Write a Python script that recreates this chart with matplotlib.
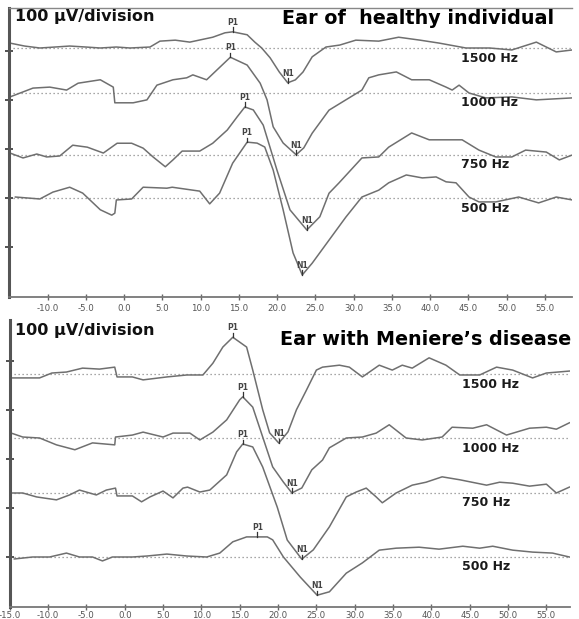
import numpy as np
import matplotlib
matplotlib.use("Agg")
import matplotlib.pyplot as plt

# ---------- Data (latency in ms, amplitude in uV relative to each baseline) ----------
freqs = ["1500 Hz", "1000 Hz", "750 Hz", "500 Hz"]

# Ear of healthy individual
h1500_t = [-14.9, -13.0, -11.0, -9.0, -7.1, -5.0, -3.1, -1.0, 0.8, 3.4, 4.7, 6.7, 8.6, 11.6, 13.2, 14.2,
           16.1, 17.1, 18.0, 19.1, 20.3, 21.4, 22.4, 23.4, 24.6, 26.4, 28.2, 30.3, 33.3, 35.9, 38.7,
           41.2, 44.7, 47.8, 50.7, 53.9, 56.5, 58.6]
h1500_uv = [10, 4, 0, 2, 4, 2, 0, 2, 0, 2, 14, 16, 12, 22, 31, 33,
            27, 12, 0, -20, -49, -71, -65, -49, -18, 2, 6, 16, 14, 22, 16,
            10, 0, 0, -4, 12, -8, -4]

h1000_t = [-14.9, -11.9, -9.7, -7.5, -6.0, -3.1, -1.4, -1.2, 1.2, 3.0, 4.3, 6.4, 8.2, 9.0, 10.8, 13.9,
           16.1, 17.8, 18.7, 19.5, 20.8, 22.5, 23.5, 24.6, 26.8, 29.0, 31.1, 32.0, 33.3, 35.6, 37.6,
           39.9, 42.1, 42.9, 43.8, 45.1, 47.3, 50.7, 53.9, 58.6]
h1000_uv = [-8, 10, 12, 6, 20, 27, 12, -20, -20, -14, 16, 27, 31, 37, 27, 73,
            57, 20, -14, -69, -102, -126, -112, -82, -35, -14, 6, 31, 37, 43, 27,
            27, 12, 6, 16, 0, -10, -8, -14, -10]

h750_t = [-14.9, -13.2, -11.4, -10.1, -8.4, -6.7, -4.8, -2.7, -0.9, 1.0, 2.5, 3.8, 5.4, 6.4, 7.6, 9.9,
          11.6, 13.5, 14.8, 15.8, 16.9, 18.2, 20.0, 21.7, 23.9, 25.6, 26.8, 28.1, 31.1, 33.3, 34.6,
          37.6, 39.9, 44.2, 46.4, 48.6, 50.7, 52.5, 55.2, 56.9, 58.6]
h750_uv = [4, -6, 2, -4, -2, 20, 16, 4, 24, 24, 14, -4, -24, -10, 8, 8,
           24, 51, 78, 98, 92, 61, -31, -112, -153, -126, -78, -57, -6, -4, 16,
           45, 31, 31, 10, -4, -4, 10, 6, -10, 0]

h500_t = [-14.2, -11.0, -9.3, -7.1, -5.4, -3.1, -1.6, -1.2, -1.0, 1.0, 2.5, 5.6, 6.3, 9.9, 11.2, 12.5,
          14.2, 16.1, 17.4, 18.4, 19.5, 20.8, 22.1, 23.3, 24.6, 26.8, 29.0, 31.1, 33.3, 34.6, 36.9,
          39.0, 40.8, 42.1, 43.4, 45.1, 46.4, 48.6, 51.6, 54.2, 56.5, 58.6]
h500_uv = [2, -2, 12, 22, 10, -24, -35, -31, -4, -2, 22, 20, 22, 14, -12, 10,
           71, 114, 112, 104, 57, -24, -112, -157, -133, -86, -39, 2, 16, 31, 47,
           41, 43, 33, 31, 2, -8, -8, 2, -10, 2, -4]

# Ear with Meniere's disease
m1500_t = [-14.8, -11.1, -9.5, -7.6, -5.5, -3.3, -1.3, -1.0, 1.0, 2.4, 5.5, 8.1, 10.2, 11.5, 12.8, 14.1,
           15.9, 16.7, 18.0, 18.9, 20.1, 21.3, 22.4, 23.7, 25.0, 25.8, 28.0, 29.3, 31.0, 33.2, 34.9,
           36.2, 37.5, 39.7, 41.9, 43.7, 46.3, 48.5, 50.6, 53.2, 55.0, 58.0]
m1500_uv = [-8, -8, 2, 4, 12, 10, 14, -6, -6, -12, -6, -2, -2, 22, 55, 75,
            55, 8, -73, -120, -141, -118, -73, -33, 8, 14, 18, 14, -6, 18, 8,
            18, 12, 33, 18, -2, -2, 14, 8, -8, 2, 6]

m1000_t = [-14.8, -13.3, -11.1, -8.9, -6.5, -4.2, -1.3, -1.2, 1.0, 2.4, 5.0, 6.3, 8.5, 9.8, 11.5, 13.3,
           15.0, 15.4, 16.7, 18.0, 19.3, 20.7, 21.8, 23.1, 24.4, 25.8, 26.7, 28.9, 31.0, 32.8, 34.5,
           36.7, 38.8, 41.4, 42.7, 45.4, 47.2, 49.8, 52.8, 55.0, 56.3, 58.0]
m1000_uv = [10, 2, 0, -14, -24, -10, -14, 2, 6, 12, 2, 10, 10, -4, 12, 37,
            78, 84, 63, 2, -59, -90, -112, -102, -65, -45, -20, 0, 2, 10, 27,
            0, -4, 2, 22, 20, 27, 6, 20, 22, 18, 31]

m750_t = [-14.8, -13.3, -11.5, -8.9, -7.2, -5.9, -3.7, -2.4, -1.2, -1.0, 1.0, 2.2, 3.3, 5.0, 6.3, 7.6,
          8.2, 9.8, 11.1, 13.3, 14.6, 15.4, 16.7, 18.0, 19.9, 21.2, 23.1, 24.6, 26.7, 28.9, 30.2,
          31.5, 32.8, 33.6, 35.4, 37.5, 39.3, 41.4, 43.7, 47.2, 48.9, 50.6, 52.8, 55.0, 56.3, 58.0]
m750_uv = [0, 0, -8, -14, -4, 6, -4, 6, 10, -6, -6, -18, -8, 4, -10, 10,
           12, 2, 6, 37, 84, 100, 94, 53, -29, -96, -135, -116, -69, -8, 2,
           10, -8, -20, 0, 16, 22, 33, 27, 16, 22, 20, 14, 18, 0, 12]

m500_t = [-14.4, -12.0, -9.8, -7.6, -5.9, -4.2, -2.9, -1.6, 1.0, 2.9, 5.5, 8.1, 10.7, 12.4, 14.1, 15.9,
          17.3, 18.6, 19.3, 20.7, 22.9, 25.1, 26.7, 28.9, 31.0, 33.2, 35.4, 38.4, 41.0, 44.1, 46.3,
          48.0, 50.6, 53.2, 55.8, 58.0]
m500_uv = [-4, 0, 0, 8, 0, 0, -8, 0, 0, 2, 6, 2, 0, 8, 31, 41,
           41, 41, 35, 0, -41, -78, -71, -33, -12, 14, 18, 20, 16, 22, 18,
           22, 14, 10, 8, 0]

# peak latencies (ms)
h_p1 = [14.2, 13.9, 15.8, 16.1]
h_n1 = [21.4, 22.5, 23.9, 23.3]
m_p1 = [14.1, 15.4, 15.4, 17.3]
m_n1 = [20.1, 21.8, 23.1, 25.1]

x_ticks = [-10, -5, 0, 5, 10, 15, 20, 25, 30, 35, 40, 45, 50, 55]

# ---------- Layout ----------
W, H = 579, 619
UV_PER_PX = 100 / 49.0
TRACE = "#6f6f6f"

fig = plt.figure(figsize=(W / 100, H / 100), dpi=100)


def px_axes(left, top, right, bottom):
    return fig.add_axes([left / W, 1 - bottom / H, (right - left) / W, (bottom - top) / H])


def draw_panel(ax, traces, offsets, p1s, n1s, xlim, ylim, yticks, ticks_x, pad):
    ax.set_xlim(*xlim)
    ax.set_ylim(*ylim)
    for (t, uv), off, p1, n1, name in zip(traces, offsets, p1s, n1s, freqs):
        t = np.array(t)
        y = np.array(uv) + off
        ax.plot(xlim, [off, off], color="#8a8a8a", lw=0.9, ls=(0, (1, 2.2)), zorder=1)
        ax.plot(t, y, color=TRACE, lw=1.1, zorder=2)
        for lat, lab in ((p1, "P1"), (n1, "N1")):
            yp = np.interp(lat, t, y)
            ax.plot([lat, lat], [yp, yp + 4.5 * UV_PER_PX], color="#333333", lw=0.9, zorder=3)
            ax.text(lat, yp + 5 * UV_PER_PX, lab, ha="center", va="bottom", fontsize=5.5,
                    fontweight="bold", color="#444444")
        ax.text(44.0, off - 10 * UV_PER_PX, name, ha="left", va="center", fontsize=9,
                fontweight="bold", color="#1a1a1a")
    ax.set_xticks(ticks_x)
    ax.set_xticklabels([f"{v:.1f}" for v in ticks_x], fontsize=6.2, color="#555555")
    ax.set_yticks(yticks)
    ax.set_yticklabels([])
    ax.tick_params(axis="x", direction="inout", length=4, width=1, color="#666666", pad=pad)
    ax.tick_params(axis="y", direction="inout", length=6, width=1.2, color="#333333")
    ax.spines["right"].set_visible(False)
    ax.spines["left"].set_color("#555555")
    ax.spines["left"].set_linewidth(2.2)
    ax.spines["bottom"].set_color("#777777")
    ax.spines["bottom"].set_linewidth(1.3)


# top panel
ax1 = px_axes(9, 8, 572, 297)
draw_panel(ax1,
           [(h1500_t, h1500_uv), (h1000_t, h1000_uv), (h750_t, h750_uv), (h500_t, h500_uv)],
           [150 * UV_PER_PX, 105 * UV_PER_PX, 43 * UV_PER_PX, 0],
           h_p1, h_n1,
           ((9 - 124) / 7.65, (572 - 124) / 7.65),
           (-99 * UV_PER_PX, 190 * UV_PER_PX),
           [-100, 0, 100, 200, 300],
           x_ticks, 3)
ax1.spines["top"].set_color("#888888")
ax1.spines["top"].set_linewidth(1.0)

# bottom panel
ax2 = px_axes(9.7, 320, 570, 607)
draw_panel(ax2,
           [(m1500_t, m1500_uv), (m1000_t, m1000_uv), (m750_t, m750_uv), (m500_t, m500_uv)],
           [183 * UV_PER_PX, 119 * UV_PER_PX, 64 * UV_PER_PX, 0],
           m_p1, m_n1,
           (-15.0, (570 - 124.7) / 7.667),
           (-50 * UV_PER_PX, 237 * UV_PER_PX),
           [0, 100, 200, 300, 400],
           [-15] + x_ticks, 1.2)
ax2.spines["top"].set_visible(False)

# titles
fig.text(15 / W, 1 - 16 / H, "100 \u00b5V/division", fontsize=11.5, fontweight="bold",
         ha="left", va="center", color="#111111")
fig.text(282 / W, 1 - 18 / H, "Ear of  healthy individual", fontsize=13.8, fontweight="bold",
         ha="left", va="center", color="#000000")
fig.text(15 / W, 1 - 331 / H, "100 \u00b5V/division", fontsize=11.5, fontweight="bold",
         ha="left", va="center", color="#111111")
fig.text(280 / W, 1 - 340 / H, "Ear with Meniere\u2019s disease", fontsize=13.8, fontweight="bold",
         ha="left", va="center", color="#000000")

fig.savefig("out.png", dpi=100, facecolor="white")
